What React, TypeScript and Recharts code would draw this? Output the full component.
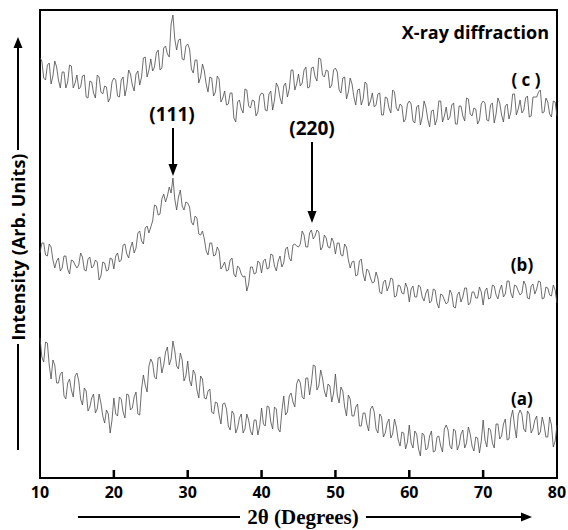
import { LineChart, Line, XAxis, YAxis, ReferenceArea } from "recharts";

// 2θ scan positions (degrees), 0.25° step
const THETA = [
  10, 10.25, 10.5, 10.75, 11, 11.25, 11.5, 11.75, 12, 12.25, 12.5, 12.75, 13, 13.25, 13.5, 13.75, 14, 14.25, 14.5, 14.75,
  15, 15.25, 15.5, 15.75, 16, 16.25, 16.5, 16.75, 17, 17.25, 17.5, 17.75, 18, 18.25, 18.5, 18.75, 19, 19.25, 19.5, 19.75,
  20, 20.25, 20.5, 20.75, 21, 21.25, 21.5, 21.75, 22, 22.25, 22.5, 22.75, 23, 23.25, 23.5, 23.75, 24, 24.25, 24.5, 24.75,
  25, 25.25, 25.5, 25.75, 26, 26.25, 26.5, 26.75, 27, 27.25, 27.5, 27.75, 28, 28.25, 28.5, 28.75, 29, 29.25, 29.5, 29.75,
  30, 30.25, 30.5, 30.75, 31, 31.25, 31.5, 31.75, 32, 32.25, 32.5, 32.75, 33, 33.25, 33.5, 33.75, 34, 34.25, 34.5, 34.75,
  35, 35.25, 35.5, 35.75, 36, 36.25, 36.5, 36.75, 37, 37.25, 37.5, 37.75, 38, 38.25, 38.5, 38.75, 39, 39.25, 39.5, 39.75,
  40, 40.25, 40.5, 40.75, 41, 41.25, 41.5, 41.75, 42, 42.25, 42.5, 42.75, 43, 43.25, 43.5, 43.75, 44, 44.25, 44.5, 44.75,
  45, 45.25, 45.5, 45.75, 46, 46.25, 46.5, 46.75, 47, 47.25, 47.5, 47.75, 48, 48.25, 48.5, 48.75, 49, 49.25, 49.5, 49.75,
  50, 50.25, 50.5, 50.75, 51, 51.25, 51.5, 51.75, 52, 52.25, 52.5, 52.75, 53, 53.25, 53.5, 53.75, 54, 54.25, 54.5, 54.75,
  55, 55.25, 55.5, 55.75, 56, 56.25, 56.5, 56.75, 57, 57.25, 57.5, 57.75, 58, 58.25, 58.5, 58.75, 59, 59.25, 59.5, 59.75,
  60, 60.25, 60.5, 60.75, 61, 61.25, 61.5, 61.75, 62, 62.25, 62.5, 62.75, 63, 63.25, 63.5, 63.75, 64, 64.25, 64.5, 64.75,
  65, 65.25, 65.5, 65.75, 66, 66.25, 66.5, 66.75, 67, 67.25, 67.5, 67.75, 68, 68.25, 68.5, 68.75, 69, 69.25, 69.5, 69.75,
  70, 70.25, 70.5, 70.75, 71, 71.25, 71.5, 71.75, 72, 72.25, 72.5, 72.75, 73, 73.25, 73.5, 73.75, 74, 74.25, 74.5, 74.75,
  75, 75.25, 75.5, 75.75, 76, 76.25, 76.5, 76.75, 77, 77.25, 77.5, 77.75, 78, 78.25, 78.5, 78.75, 79, 79.25, 79.5, 79.75,
  80,
];

// intensity in arbitrary units; the three scans are stacked with offsets
const SAMPLE_A = [
  140, 121, 116, 136, 135, 113, 99, 118, 113, 95, 95, 104, 106, 82, 79, 95, 99, 88, 81, 102,
  105, 97, 79, 73, 90, 87, 67, 71, 80, 84, 65, 69, 84, 75, 62, 55, 68, 64, 45, 58,
  80, 64, 62, 81, 79, 66, 60, 84, 83, 68, 70, 81, 86, 64, 63, 89, 103, 93, 86, 112,
  119, 115, 101, 99, 120, 121, 105, 113, 126, 131, 113, 119, 137, 127, 112, 109, 125, 118, 97, 102,
  117, 98, 92, 108, 104, 88, 80, 102, 99, 80, 79, 87, 89, 66, 64, 76, 75, 63, 54, 74,
  75, 69, 52, 48, 67, 64, 45, 50, 60, 64, 45, 49, 64, 58, 47, 43, 58, 58, 43, 52,
  70, 54, 52, 72, 71, 56, 49, 71, 69, 49, 46, 67, 82, 63, 66, 82, 85, 76, 71, 94,
  99, 95, 81, 79, 100, 100, 83, 95, 113, 112, 88, 92, 108, 100, 87, 81, 94, 92, 76, 85,
  104, 83, 75, 91, 87, 71, 62, 83, 79, 62, 62, 71, 74, 52, 52, 65, 65, 54, 47, 69,
  72, 66, 49, 45, 64, 61, 41, 45, 55, 59, 40, 44, 59, 51, 38, 32, 46, 45, 29, 36,
  53, 35, 30, 47, 44, 29, 22, 45, 43, 28, 30, 42, 47, 26, 27, 41, 42, 32, 26, 49,
  53, 48, 32, 29, 49, 47, 28, 33, 44, 48, 30, 35, 51, 44, 32, 27, 41, 40, 25, 37,
  58, 38, 31, 50, 48, 35, 30, 54, 54, 39, 42, 54, 59, 38, 39, 60, 68, 52, 40, 63,
  68, 64, 49, 46, 67, 64, 45, 49, 58, 62, 43, 46, 61, 53, 41, 41, 61, 53, 31, 37,
  53,
];

const SAMPLE_B = [
  225, 235, 235, 223, 222, 234, 231, 218, 210, 217, 220, 207, 210, 222, 222, 209, 204, 218, 217, 213,
  210, 213, 225, 221, 208, 207, 219, 221, 210, 212, 218, 216, 198, 202, 216, 215, 207, 208, 220, 219,
  209, 222, 225, 216, 218, 233, 234, 224, 220, 230, 236, 225, 230, 245, 247, 237, 234, 250, 252, 245,
  251, 257, 273, 272, 263, 264, 279, 284, 276, 282, 291, 285, 300, 279, 268, 281, 288, 272, 268, 276,
  275, 271, 256, 253, 262, 260, 244, 243, 247, 239, 227, 223, 235, 235, 222, 223, 231, 227, 209, 212,
  216, 207, 208, 218, 220, 204, 201, 212, 210, 204, 201, 202, 187, 194, 211, 211, 204, 205, 217, 215,
  205, 217, 219, 209, 210, 224, 223, 212, 207, 217, 222, 211, 215, 229, 231, 220, 217, 233, 234, 232,
  231, 234, 247, 243, 231, 231, 245, 248, 239, 242, 248, 246, 228, 231, 243, 240, 231, 230, 240, 236,
  224, 235, 235, 223, 222, 234, 231, 218, 210, 216, 217, 202, 203, 217, 219, 204, 197, 209, 207, 200,
  195, 196, 206, 200, 186, 184, 196, 198, 187, 192, 200, 199, 181, 182, 193, 192, 185, 184, 195, 190,
  176, 189, 192, 181, 181, 193, 191, 181, 177, 185, 189, 175, 177, 189, 188, 175, 170, 184, 183, 178,
  174, 176, 188, 184, 171, 170, 183, 186, 176, 181, 190, 190, 173, 175, 186, 186, 180, 180, 191, 186,
  173, 187, 190, 179, 180, 193, 192, 183, 179, 188, 193, 181, 184, 197, 197, 185, 180, 193, 192, 187,
  183, 185, 197, 193, 180, 179, 192, 194, 184, 189, 197, 196, 179, 180, 191, 190, 183, 182, 193, 188,
  175,
];

const SAMPLE_C = [
  420, 417, 400, 398, 413, 415, 394, 402, 417, 411, 398, 390, 406, 406, 390, 396, 413, 412, 390, 395,
  403, 389, 391, 402, 403, 381, 380, 397, 396, 385, 380, 403, 401, 386, 384, 392, 391, 376, 380, 396,
  400, 398, 382, 381, 398, 401, 382, 391, 408, 404, 393, 387, 404, 407, 393, 401, 420, 421, 401, 408,
  419, 407, 411, 425, 428, 408, 410, 430, 432, 424, 421, 454, 463, 439, 428, 438, 439, 419, 418, 432,
  434, 429, 409, 405, 418, 418, 395, 401, 414, 407, 394, 386, 401, 400, 382, 386, 402, 399, 376, 380,
  387, 373, 374, 385, 385, 360, 356, 376, 378, 369, 365, 389, 388, 372, 370, 378, 377, 362, 366, 382,
  385, 384, 368, 367, 384, 387, 368, 378, 395, 391, 380, 374, 392, 395, 381, 389, 408, 408, 388, 394,
  404, 392, 395, 408, 411, 390, 391, 410, 411, 401, 397, 420, 419, 403, 401, 408, 407, 390, 393, 408,
  410, 406, 388, 385, 400, 401, 379, 386, 400, 394, 381, 373, 388, 389, 373, 379, 396, 394, 372, 377,
  385, 371, 373, 384, 385, 363, 363, 381, 380, 370, 365, 388, 386, 370, 367, 374, 372, 356, 359, 374,
  377, 374, 357, 355, 371, 373, 353, 361, 377, 371, 359, 351, 367, 368, 353, 359, 377, 377, 356, 362,
  371, 358, 361, 373, 375, 354, 354, 372, 372, 362, 357, 380, 379, 364, 362, 370, 369, 354, 358, 374,
  377, 375, 358, 357, 373, 375, 355, 364, 380, 375, 363, 356, 372, 374, 359, 366, 384, 384, 363, 369,
  378, 365, 368, 380, 382, 361, 362, 381, 381, 381, 386, 388, 365, 366, 380, 376, 364, 361, 377, 376,
  362,
];

const X_TICKS = [10, 20, 30, 40, 50, 60, 70, 80];

const rows = THETA.map((t, i) => ({
  theta: t,
  a: SAMPLE_A[i],
  b: SAMPLE_B[i],
  c: SAMPLE_C[i],
}));

const LABEL_FONT = "'Open Sans', Lato, sans-serif";
const LINE_COLOR = "#4a4a4a";

function AngleTick(props: any) {
  const { x, y, payload } = props;
  const v = payload.value;
  return (
    <g>
      {v > 10 && v < 80 && (
        <line x1={x} x2={x} y1={y} y2={y - 8} stroke="#000" strokeWidth={2.5} />
      )}
      <text
        x={x}
        y={y + 20}
        textAnchor="middle"
        fontFamily={LABEL_FONT}
        fontWeight={700}
        fontSize={16}
        fill="#000"
      >
        {v}
      </text>
    </g>
  );
}

function Annotations() {
  const bold = { fontFamily: LABEL_FONT, fontWeight: 700 } as const;
  return (
    <svg
      width={568}
      height={530}
      style={{ position: "absolute", left: 0, top: 0, pointerEvents: "none" }}
    >
      {/* y axis title with arrow */}
      <line x1={18} y1={450} x2={18} y2={344} stroke="#000" strokeWidth={2} />
      <line x1={18} y1={150} x2={18} y2={46} stroke="#000" strokeWidth={2} />
      <polygon points="18,37 13.5,48 22.5,48" fill="#000" />
      <text
        x={18}
        y={247}
        transform="rotate(-90 18 247)"
        textAnchor="middle"
        dominantBaseline="central"
        fontSize={18}
        {...bold}
      >
        Intensity (Arb. Units)
      </text>

      {/* x axis title with arrow */}
      <line x1={78} y1={517} x2={240} y2={517} stroke="#000" strokeWidth={2} />
      <line x1={366} y1={517} x2={522} y2={517} stroke="#000" strokeWidth={2} />
      <polygon points="532,517 521,512.5 521,521.5" fill="#000" />
      <text
        x={303}
        y={517}
        textAnchor="middle"
        dominantBaseline="central"
        fontFamily="'Liberation Serif', 'DejaVu Serif', serif"
        fontWeight={700}
        fontSize={21}
      >
        2θ (Degrees)
      </text>

      <text x={549} y={39} textAnchor="end" fontSize={18} {...bold}>
        X-ray diffraction
      </text>
      <text x={526} y={86} textAnchor="middle" fontSize={17} {...bold}>
        ( c )
      </text>
      <text x={522} y={271} textAnchor="middle" fontSize={17} {...bold}>
        (b)
      </text>
      <text x={522} y={405} textAnchor="middle" fontSize={17} {...bold}>
        (a)
      </text>

      {/* peak markers */}
      <text x={172} y={121} textAnchor="middle" fontSize={19} {...bold}>
        (111)
      </text>
      <line x1={173} y1={128} x2={173} y2={166} stroke="#000" strokeWidth={2} />
      <polygon points="173,176 168.5,164 177.5,164" fill="#000" />
      <text x={312} y={135} textAnchor="middle" fontSize={19} {...bold}>
        (220)
      </text>
      <line x1={312} y1={142} x2={312} y2={213} stroke="#000" strokeWidth={2} />
      <polygon points="312,223 307.5,211 316.5,211" fill="#000" />
    </svg>
  );
}

export default function App() {
  return (
    <div
      style={{
        position: "absolute",
        left: 0,
        top: 0,
        width: 568,
        height: 530,
        background: "#fff",
      }}
    >
      <LineChart
        width={568}
        height={530}
        data={rows}
        margin={{ top: 10, right: 11, left: 40, bottom: 22 }}
      >
        <XAxis
          dataKey="theta"
          type="number"
          domain={[10, 80]}
          ticks={X_TICKS}
          interval={0}
          axisLine={false}
          tickLine={false}
          tickSize={0}
          tickMargin={0}
          height={30}
          tick={<AngleTick />}
        />
        <YAxis type="number" domain={[0, 468]} hide />
        <Line type="linear" dataKey="a" stroke={LINE_COLOR} strokeWidth={0.8} dot={false} isAnimationActive={false} />
        <Line type="linear" dataKey="b" stroke={LINE_COLOR} strokeWidth={0.8} dot={false} isAnimationActive={false} />
        <Line type="linear" dataKey="c" stroke={LINE_COLOR} strokeWidth={0.8} dot={false} isAnimationActive={false} />
        <ReferenceArea x1={10} x2={80} y1={0} y2={468} fill="none" stroke="#000" strokeWidth={2} />
      </LineChart>
      <Annotations />
    </div>
  );
}
